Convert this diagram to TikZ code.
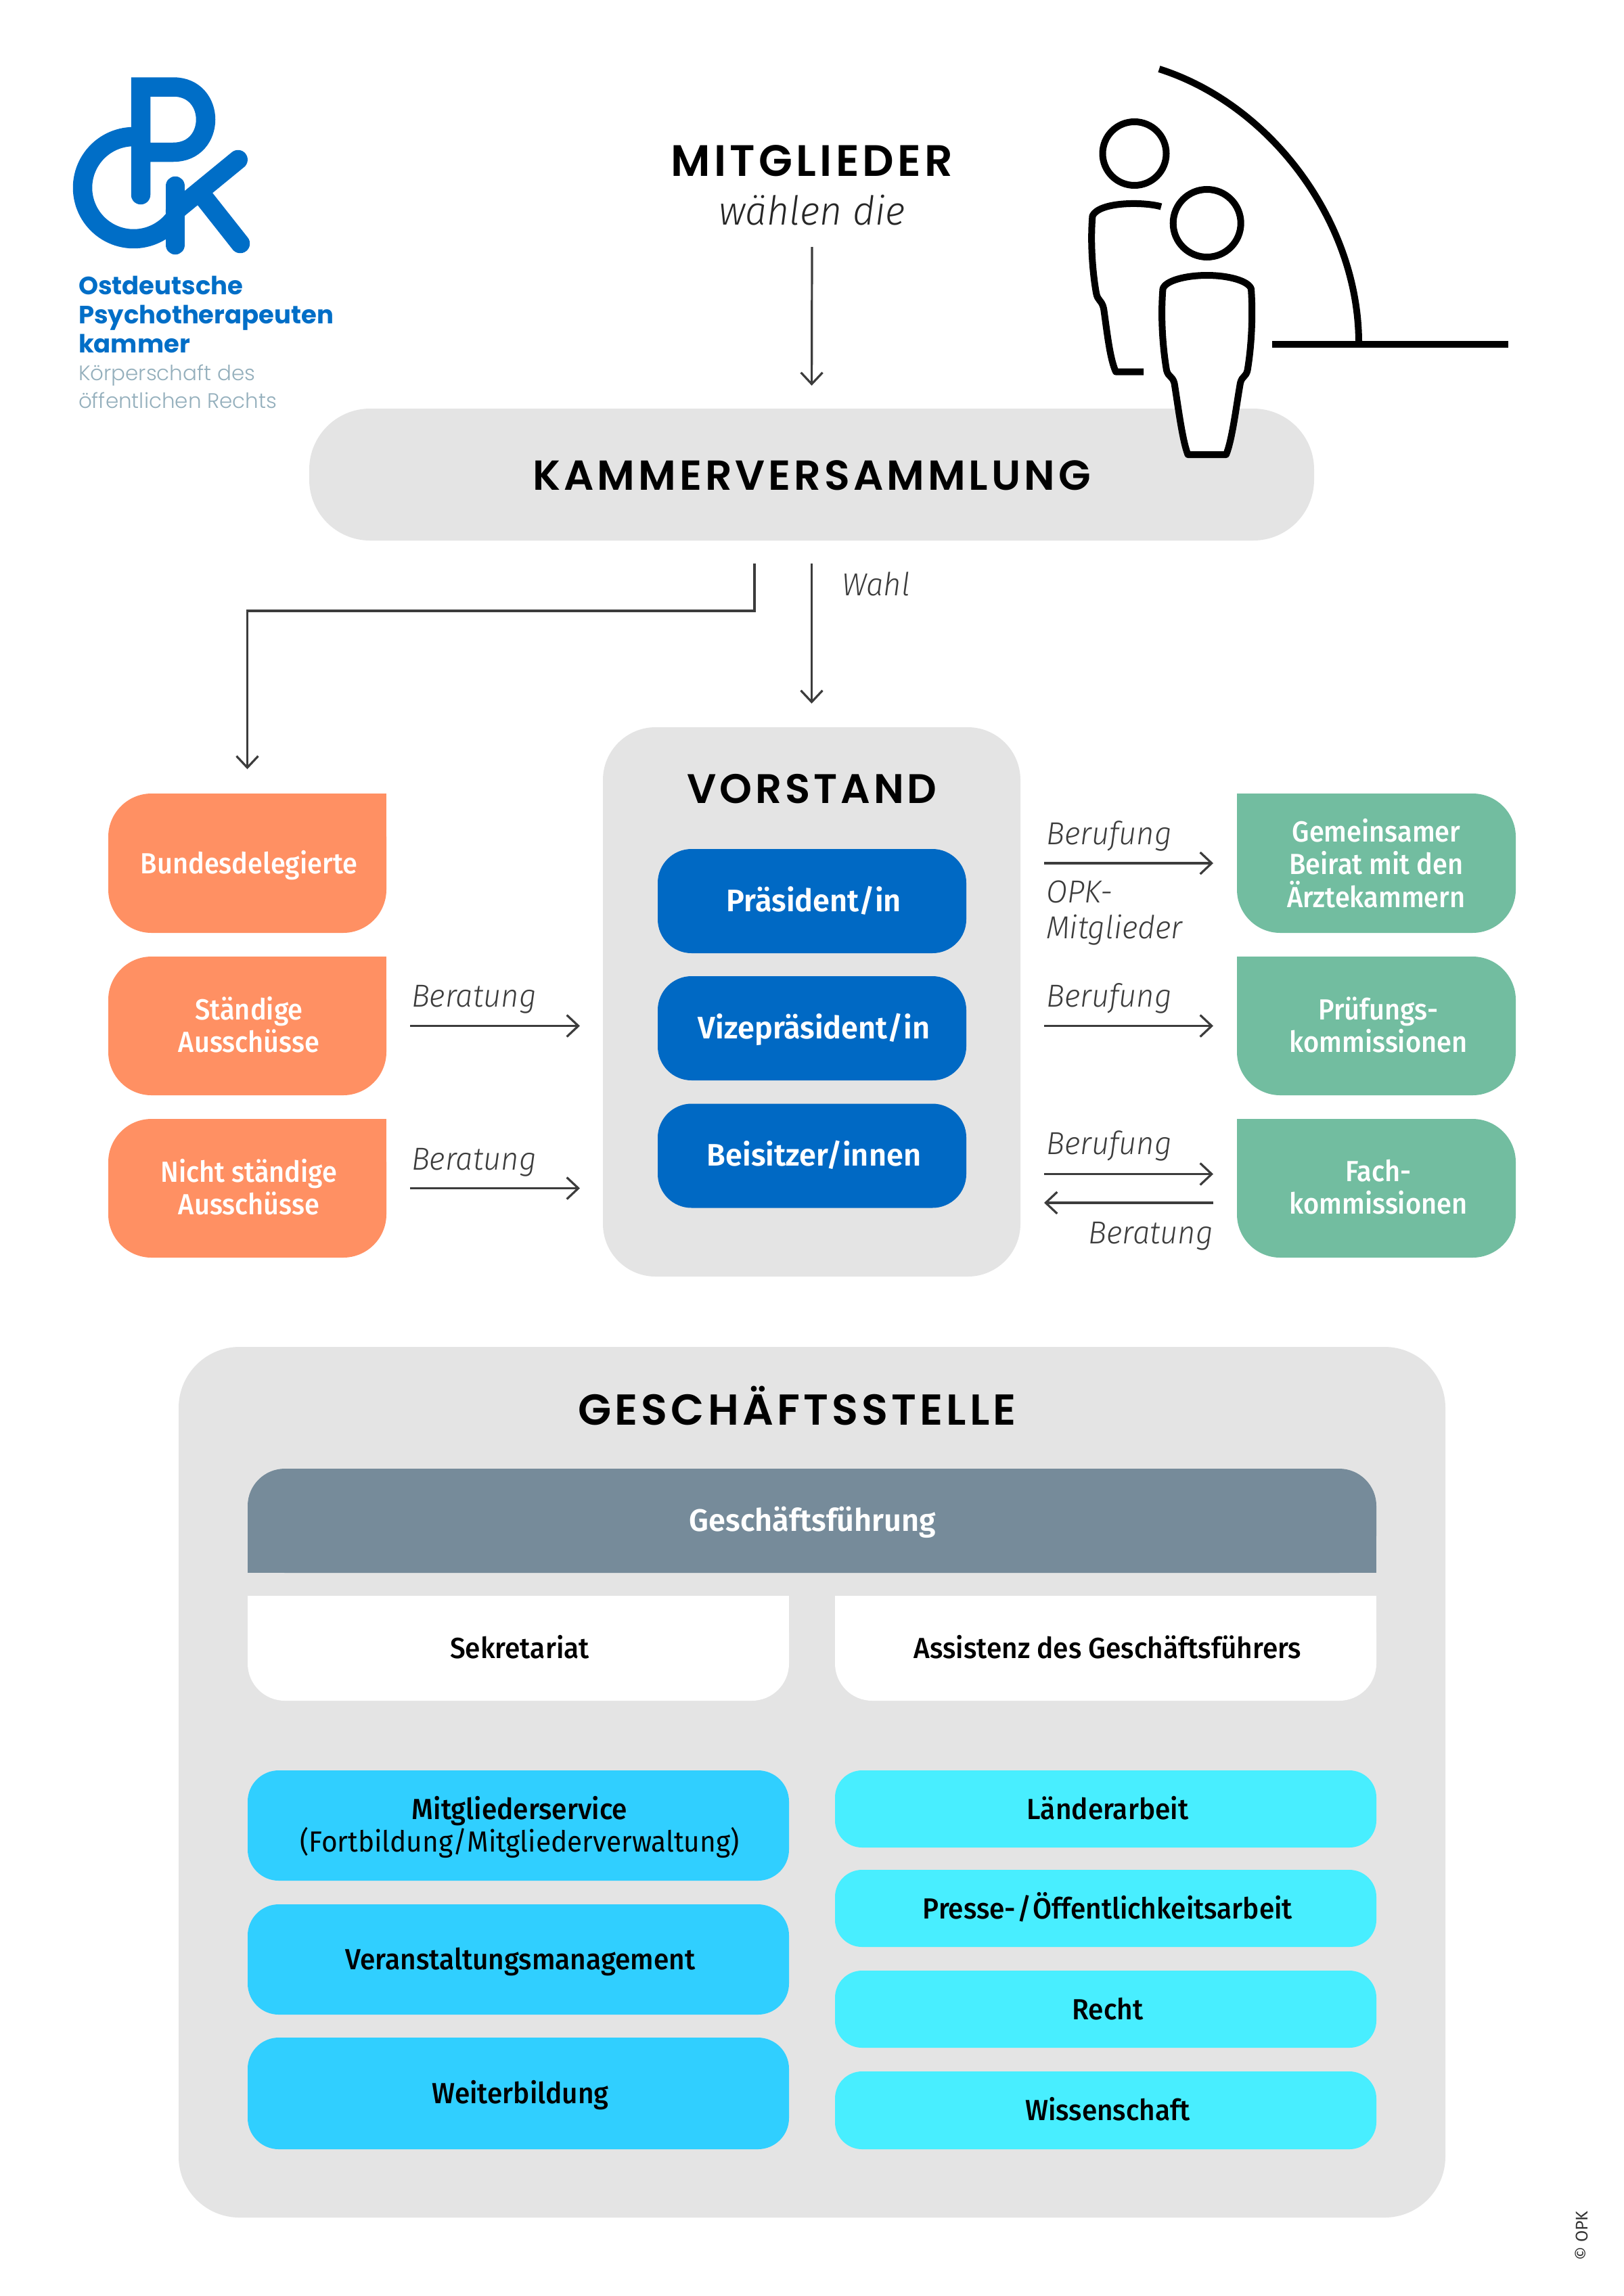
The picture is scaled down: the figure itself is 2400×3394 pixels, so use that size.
\documentclass[tikz,border=0pt]{standalone}
\usepackage{fontspec}
\usetikzlibrary{arrows.meta,calc}
\setmainfont{Fira Sans}
\newfontfamily\medf{Fira Sans}[UprightFont=* Medium,FakeStretch=0.945]
\newfontfamily\regnf{Fira Sans}[FakeStretch=0.945]
\newfontfamily\whitef{Fira Sans}[UprightFont=* Medium,FakeStretch=0.925]
\newfontfamily\boldf{Fira Sans}[UprightFont=* SemiBold,FakeStretch=0.98]
\newfontfamily\notef{Fira Sans}[UprightFont=* Light Italic,FakeStretch=0.965]
\newfontfamily\regf{Fira Sans}[UprightFont=*]
\newfontfamily\headf{Poppins}[UprightFont=* SemiBold,LetterSpace=8]
\newfontfamily\logof{Poppins}[UprightFont=* Bold]
\newfontfamily\logol{Poppins}[UprightFont=* Light]
\definecolor{grayp}{HTML}{E4E4E4}
\definecolor{orangeb}{HTML}{FF9063}
\definecolor{greenb}{HTML}{72BDA0}
\definecolor{blueb}{HTML}{0069C4}
\definecolor{slateb}{HTML}{768B9A}
\definecolor{cyanl}{HTML}{30CFFF}
\definecolor{cyanr}{HTML}{48EEFF}
\definecolor{arrowc}{HTML}{3C3C3C}
\definecolor{logob}{HTML}{006EC7}
\definecolor{logog}{HTML}{94AFBC}
\newcommand{\lastln}{\rule[-4pt]{0pt}{1pt}}
\tikzset{
  lbl/.style={inner sep=0pt,outer sep=0pt,align=center,text=white,font=\whitef\fontsize{43}{48.5}\selectfont},
  darklbl/.style={lbl,text=black,font=\medf\fontsize{43}{48.5}\selectfont},
  vboss/.style={lbl,font=\boldf\fontsize{46}{50}\selectfont},
  one/.style={text height=39pt,text depth=9pt},
  nudge/.style={execute at begin node={\hspace*{6pt}}},
  head/.style={inner sep=0pt,outer sep=0pt,text=black,font=\headf\fontsize{#1}{60}\selectfont},
  note/.style={inner sep=0pt,outer sep=0pt,text=arrowc,align=left,font=\notef\fontsize{47}{53}\selectfont},
  arr/.style={draw=arrowc,line width=3.2pt,-{Straight Barb[length=17pt,width=32pt,line width=3.2pt]}},
  logostroke/.style={draw=logob,line width=28.5pt},
  fig/.style={draw=black,line width=10pt},
  logot/.style={inner sep=0pt,outer sep=0pt,anchor=base west,text=logob,font=\logof\fontsize{37}{44}\selectfont},
  logou/.style={inner sep=0pt,outer sep=0pt,anchor=base west,text=logog,font=\logol\fontsize{31}{40}\selectfont},
}
\begin{document}
\begin{tikzpicture}[x=1pt,y=-1pt]
\useasboundingbox (0,0) rectangle (2400,3394);
\fill[white] (0,0) rectangle (2400,3394);

% logo
\draw[logostroke,line cap=round,line join=miter] (208,288) -- (208,128.5) -- (256,128.5) .. controls (320,128.5) and (320,225) .. (256,225) -- (208,225);
\draw[logostroke] plot[domain=90:323,samples=70,smooth] ({197.5+75.5*cos(\x)},{277.5-75.5*sin(\x)});
\draw[logostroke,line cap=round] (259,275) -- (259,362);
\draw[logostroke,line cap=round] (351.7,236) -- (259,312);
\draw[logostroke,line cap=round] (295,284) -- (355,360);
\node[logot] (l1) at (116,435) {Ostdeutsche};
\node[logot] (l2) at (116,478) {Psychotherapeuten};
\node[logot] (l3) at (116,521) {kammer};
\node[logou] (l4) at (116,562) {Körperschaft des};
\node[logou] (l5) at (116,603) {öffentlichen Rechts};

% top
\node[head=65] (mitg) at (1200,238) {MITGLIEDER};
\node[note,font=\notef\fontsize{59}{66}\selectfont,text=black!85] (waehl) at (1200,311) {wählen die};

% Kammerversammlung
\node[fill=grayp,minimum width=1485pt,minimum height=195pt,rounded corners=90pt,inner sep=0pt,outer sep=0pt] (kv) at (1199.5,701.5) {};
\node[head=62] (kvt) at (1199.5,703) {KAMMERVERSAMMLUNG};

% figures
\draw[fig,line cap=butt] (1713,102) .. controls (1880,155) and (2008,330) .. (2008,507);
\draw[fig] (1880,509) -- (2229,509);
\draw[fig] (1676.5,227) circle[radius=47pt];
\draw[fig] (1783.7,330) circle[radius=50pt];
\draw[fig,line join=round] (1716,305.5) .. controls (1690,298) and (1625,298) .. (1614.5,319) .. controls (1611,360) and (1615,405) .. (1620,433) .. controls (1622,445) and (1628,443) .. (1631,456) .. controls (1636,490) and (1640,530) .. (1649,549.6) -- (1690,549.6);
\draw[fig,fill=white,line join=round] (1783.7,407) .. controls (1815,407) and (1845,415) .. (1849,427) .. controls (1852,470) and (1849,515) .. (1843.5,547.5) .. controls (1841,558) and (1836,555) .. (1833,566) .. controls (1827,600) and (1821,650) .. (1812,672) -- (1755.5,672) .. controls (1747,650) and (1741,600) .. (1735.4,566) .. controls (1732,555) and (1727,558) .. (1724,547.5) .. controls (1718.5,515) and (1715,470) .. (1718.5,427) .. controls (1722,415) and (1752,407) .. (1783.7,407) -- cycle;

% Vorstand
\node[fill=grayp,minimum width=617pt,minimum height=812pt,rounded corners=78pt,inner sep=0pt,outer sep=0pt] (vor) at (1199.5,1481) {};
\node[head=61] (vort) at (1200,1166) {VORSTAND};
\foreach \n/\y/\t in {pr/1332/Präsident\slash in,vp/1520/Vizepräsident\slash in,bs/1708.5/Beisitzer\slash innen}{
  \node[vboss,one,nudge,fill=blueb,minimum width=456pt,minimum height=154pt,rounded corners=50pt] (\n) at (1200,\y) {\t};
}

% orange
\fill[orangeb,rounded corners=64pt] (160,1173) -- (160,1379) -- (571,1379) -- (571,1173) -- cycle;
\fill[orangeb] (300,1173) rectangle (571,1250);
\node[lbl,one,minimum width=411pt,minimum height=206pt] (bund) at (368,1276) {Bundesdelegierte};
\fill[orangeb,rounded corners=64pt] (160,1414) -- (160,1619) -- (571,1619) -- (571,1414) -- cycle;
\fill[orangeb] (300,1414) rectangle (571,1490);
\node[lbl,minimum width=411pt,minimum height=205pt] (stand) at (368,1516.5) {Ständige\\Ausschüsse\lastln};
\fill[orangeb,rounded corners=64pt] (160,1654) -- (160,1859) -- (571,1859) -- (571,1654) -- cycle;
\fill[orangeb] (300,1654) rectangle (571,1730);
\node[lbl,minimum width=411pt,minimum height=205pt] (nicht) at (368,1756.5) {Nicht ständige\\Ausschüsse\lastln};

% green
\fill[greenb,rounded corners=64pt] (1828,1173) -- (1828,1379) -- (2240,1379) -- (2240,1173) -- cycle;
\fill[greenb] (1828,1173) rectangle (2000,1250);
\node[lbl,minimum width=412pt,minimum height=206pt] (gem) at (2034,1276) {Gemeinsamer\\Beirat mit den\\Ärztekammern};
\fill[greenb,rounded corners=64pt] (1828,1414) -- (1828,1619) -- (2240,1619) -- (2240,1414) -- cycle;
\fill[greenb] (1828,1414) rectangle (2000,1490);
\node[lbl,minimum width=412pt,minimum height=205pt] (pruef) at (2037,1516.5) {Prüfungs-\\kommissionen\lastln};
\fill[greenb,rounded corners=64pt] (1828,1654) -- (1828,1859) -- (2240,1859) -- (2240,1654) -- cycle;
\fill[greenb] (1828,1654) rectangle (2000,1730);
\node[lbl,minimum width=412pt,minimum height=205pt] (fach) at (2037,1756.5) {Fach-\\kommissionen\lastln};

% connectors
\draw[arr,shorten >=34pt] ([yshift=-54pt]waehl.center) -- (kv.north);
\draw[arr,shorten <=34pt,shorten >=35pt] (kv.south) -- (vor.north);
\coordinate (elb) at (1115,903);
\draw[arr,shorten <=34pt,shorten >=36pt] ([xshift=-84.5pt]kv.south) -- (elb) -| ([xshift=-2.5pt]bund.north);
\draw[arr,shorten <=32.5pt,shorten >=34pt] (stand.east) -- (stand.east -| vor.west);
\draw[arr,shorten <=32.5pt,shorten >=34pt] (nicht.east) -- (nicht.east -| vor.west);
\draw[arr,shorten <=35pt,shorten >=35pt] (vor.east |- gem.west) -- (gem.west);
\draw[arr,shorten <=35pt,shorten >=38pt] (vor.east |- pruef.west) -- (pruef.west);
\draw[arr,shorten <=35pt,shorten >=38pt] ([yshift=21pt]vor.east |- fach.west) -- ([yshift=21pt]fach.west);
\draw[arr,shorten <=38pt,shorten >=35pt] ([yshift=-21.5pt]fach.west) -- ([yshift=-21.5pt]vor.east |- fach.west);

% arrow labels
\node[note,anchor=west] (wl) at (1244,863) {Wahl};
\node[note,anchor=west] (b1) at (608,1477) {Beratung};
\node[note,anchor=west] (b2) at (608,1718) {Beratung};
\node[note,anchor=west] (r1) at (1546,1236) {Berufung};
\node[note,anchor=west] (r2) at (1546,1349) {OPK-\\Mitglieder};
\node[note,anchor=west] (r3) at (1546,1476) {Berufung};
\node[note,anchor=west] (r4) at (1546,1694) {Berufung};
\node[note,anchor=east] (b3) at (1793,1827) {Beratung};

% Geschaeftsstelle
\node[fill=grayp,minimum width=1872pt,minimum height=1287pt,rounded corners=90pt,inner sep=0pt,outer sep=0pt] (gs) at (1200,2634.5) {};
\node[head=64] (gst) at (1178,2078) {GESCHÄFTSSTELLE};
\fill[slateb,rounded corners=55pt] (366,2325) -- (366,2171) -- (2034,2171) -- (2034,2325) -- cycle;
\fill[slateb] (366,2260) rectangle (2034,2325);
\node[vboss,one,minimum width=1668pt,minimum height=154pt] (gf) at (1201,2248) {Geschäftsführung};
\fill[white,rounded corners=55pt] (366,2359) -- (366,2514) -- (1166,2514) -- (1166,2359) -- cycle;
\fill[white] (366,2359) rectangle (1166,2430);
\node[darklbl,one,minimum width=800pt,minimum height=155pt] (sek) at (768,2436.5) {Sekretariat};
\fill[white,rounded corners=55pt] (1234,2359) -- (1234,2514) -- (2034,2514) -- (2034,2359) -- cycle;
\fill[white] (1234,2359) rectangle (2034,2430);
\node[darklbl,one,minimum width=800pt,minimum height=155pt] (ass) at (1637,2436.5) {Assistenz des Geschäftsführers};

\node[darklbl,fill=cyanl,minimum width=800pt,minimum height=163pt,rounded corners=46pt] (ms) at (766,2698.5) {\hspace*{4pt}\rule{0pt}{39pt}Mitgliederservice\\\hspace*{4pt}{\regnf (Fortbildung/Mitgliederverwaltung)}};
\node[darklbl,one,nudge,fill=cyanl,minimum width=800pt,minimum height=163pt,rounded corners=46pt] (vm) at (766,2896.5) {Veranstaltungsmanagement};
\node[darklbl,one,nudge,fill=cyanl,minimum width=800pt,minimum height=165pt,rounded corners=46pt] (wb) at (766,3094.5) {Weiterbildung};

\node[darklbl,one,nudge,fill=cyanr,minimum width=800pt,minimum height=114pt,rounded corners=40pt] (la) at (1634,2674) {Länderarbeit};
\node[darklbl,one,nudge,fill=cyanr,minimum width=800pt,minimum height=114pt,rounded corners=40pt] (po) at (1634,2821) {Presse-\kern2pt/\kern2pt Öffentlichkeitsarbeit};
\node[darklbl,one,nudge,fill=cyanr,minimum width=800pt,minimum height=114pt,rounded corners=40pt] (re) at (1634,2970) {Recht};
\node[darklbl,one,nudge,fill=cyanr,minimum width=800pt,minimum height=115pt,rounded corners=40pt] (wi) at (1634,3119.5) {Wissenschaft};

\node[inner sep=0pt,rotate=90,text=black!80,font=\regf\fontsize{25}{28}\selectfont] (copy) at (2337,3305) {© OPK};
\end{tikzpicture}
\end{document}
